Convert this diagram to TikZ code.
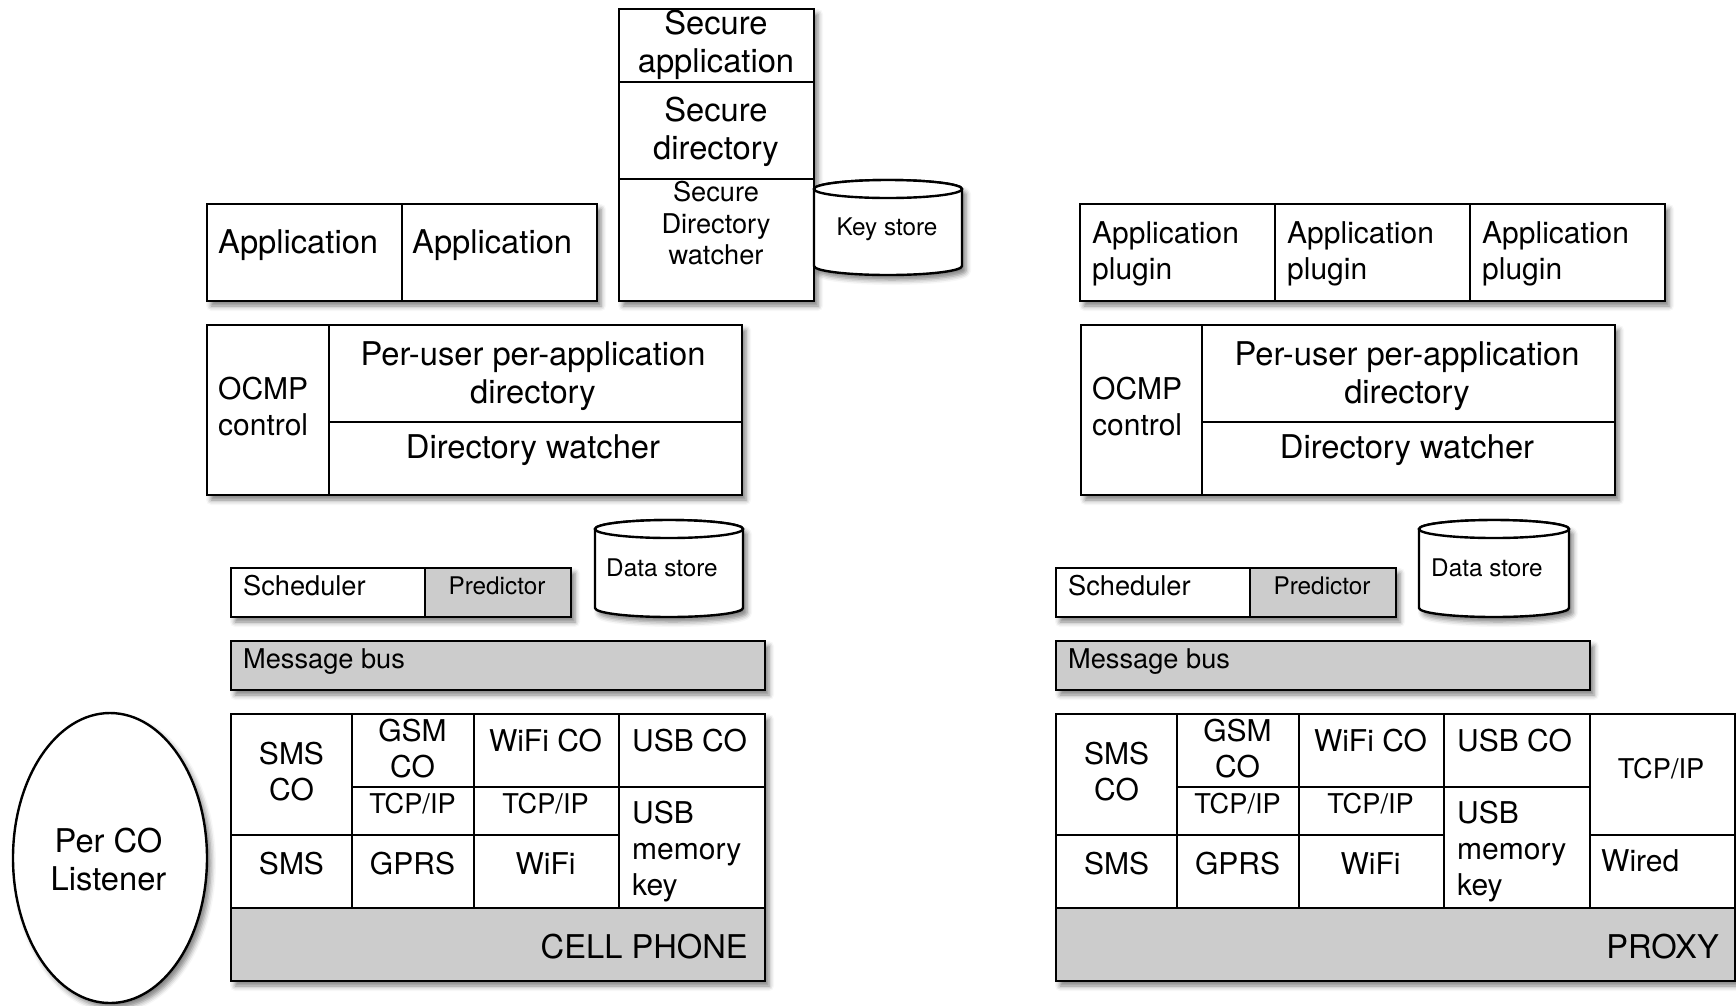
\documentclass[tikz,border=0pt]{standalone}
\usepackage{fontspec}
\setmainfont{TeX Gyre Heros}
\usetikzlibrary{shapes.geometric,shadows.blur}
\newcommand\fA{\fontsize{32.7}{38}\selectfont}
\newcommand\fB{\fontsize{30}{36}\selectfont}
\newcommand\fC{\fontsize{27.2}{31.5}\selectfont}
\newcommand\fD{\fontsize{24.3}{29}\selectfont}
% [opts]{name}{x1}{y1}{x2}{y2}
\newcommand\boxat[6][]{\node[cell,#1,minimum width={#5-#3},minimum height={#6-#4},anchor=north west] (#2) at (#3,#4) {};}
\begin{document}
\begin{tikzpicture}[x=1pt,y=-1pt,
  cell/.style={draw=black,line width=2.4pt,fill=white,inner sep=0pt,outer sep=0pt},
  grayfill/.style={fill=gray!40},
  shad/.style={blur shadow={shadow xshift=4pt,shadow yshift=-5pt,shadow blur radius=5pt,shadow opacity=50}},
  cyl/.style={draw=black,line width=2.4pt,fill=white},
  tx/.style={inner sep=0pt,text=black,align=center},
  tl/.style={inner sep=0pt,text=black,align=left,anchor=west},
]
\useasboundingbox (0,0) rectangle (1736,1005);

% ================= LEFT =================
% applications
\boxat[shad]{Lapps}{207}{204}{597}{301}
\boxat{Lapp1}{207}{204}{402}{301}
\boxat{Lapp2}{402}{204}{597}{301}
\node[tl,font=\fA] at (218,245.5) {Application};
\node[tl,font=\fA] at (412,245.5) {Application};

% secure column
\boxat[shad]{Lsec}{619}{9}{814}{301}
\boxat{Lsecapp}{619}{9}{814}{82}
\boxat{Lsecdir}{619}{82}{814}{179}
\boxat{Lsecw}{619}{179}{814}{301}
\node[tx,font=\fA] at (716,44.5) {Secure\\application};
\node[tx,font=\fA] at (716,132) {Secure\\directory};
\node[tx,font=\fC] at (716,223.5) {Secure\\Directory\\watcher};

% key store
\path[cyl,shad] (814,189) -- (814,266) arc[start angle=180,end angle=360,x radius=74pt,y radius=9pt] -- (962,189) arc[start angle=0,end angle=180,x radius=74pt,y radius=9pt] -- cycle;
\draw[cyl] (888,189) ellipse[x radius=74pt,y radius=9pt];
\node[tx,font=\fD] (Lkey) at (887,229) {Key store};

% OCMP
\boxat[shad]{Locmp}{207}{325}{742}{495}
\boxat{Lctl}{207}{325}{329}{495}
\boxat{Lpud}{329}{325}{742}{422}
\boxat{Ldw}{329}{422}{742}{495}
\node[tl,font=\fB] at (218,407) {OCMP\\control};
\node[tx,font=\fA] at (533,376) {Per-user per-application\\directory};
\node[tx,font=\fA] at (533,450.5) {Directory watcher};

% scheduler / predictor
\boxat[shad]{Lsch}{231}{568}{571}{617}
\boxat{Lsched}{231}{568}{425}{617}
\boxat[grayfill]{Lpred}{425}{568}{571}{617}
\node[tl,font=\fC] at (243,586) {Scheduler};
\node[tx,font=\fD] at (497,586) {Predictor};

% data store
\path[cyl,shad] (595,529) -- (595,608) arc[start angle=180,end angle=360,x radius=74pt,y radius=9pt] -- (743,529) arc[start angle=0,end angle=180,x radius=74pt,y radius=9pt] -- cycle;
\draw[cyl] (669,529) ellipse[x radius=74pt,y radius=9pt];
\node[tl,font=\fD] (Ldata) at (606,568) {Data store};

% message bus
\boxat[shad,grayfill]{Lbus}{231}{641}{765}{690}
\node[tl,font=\fC] at (243,661.5) {Message bus};

% CO table
\boxat[shad]{Ltab}{231}{714}{765}{981}
\boxat{Lsmsco}{231}{714}{352}{835}
\boxat{Lgsmco}{352}{714}{474}{787}
\boxat{Lwifico}{474}{714}{619}{787}
\boxat{Lusbco}{619}{714}{765}{787}
\boxat{Ltcp1}{352}{787}{474}{835}
\boxat{Ltcp2}{474}{787}{619}{835}
\boxat{Lusbkey}{619}{787}{765}{908}
\boxat{Lsms}{231}{835}{352}{908}
\boxat{Lgprs}{352}{835}{474}{908}
\boxat{Lwifi}{474}{835}{619}{908}
\boxat[grayfill]{Lphone}{231}{908}{765}{981}
\node[tx,font=\fB] at (291.5,772) {SMS\\CO};
\node[tx,font=\fB] at (412.5,748.5) {GSM\\CO};
\node[tx,font=\fB] at (545.5,741) {WiFi CO};
\node[tl,font=\fB] at (632,741) {USB CO};
\node[tx,font=\fC] at (412.5,804) {TCP/IP};
\node[tx,font=\fC] at (545.5,804) {TCP/IP};
\node[tl,font=\fB] at (632,851.5) {USB\\memory\\key};
\node[tx,font=\fB] at (291.5,863.5) {SMS};
\node[tx,font=\fB] at (412.5,863.5) {GPRS};
\node[tx,font=\fB] at (545.5,863.5) {WiFi};
\node[inner sep=0pt,anchor=east,font=\fA] at (748,946.5) {CELL PHONE};

% per CO listener
\node[cell,shad,ellipse,minimum width=194pt,minimum height=290pt] (Llist) at (110,858) {};
\node[tx,font=\fA] at (108.5,859.5) {Per CO\\Listener};

% ================= RIGHT =================
\boxat[shad]{Rapps}{1080}{204}{1665}{301}
\boxat{Rapp1}{1080}{204}{1275}{301}
\boxat{Rapp2}{1275}{204}{1470}{301}
\boxat{Rapp3}{1470}{204}{1665}{301}
\node[tl,font=\fB] at (1092,254) {Application\\plugin};
\node[tl,font=\fB] at (1287,254) {Application\\plugin};
\node[tl,font=\fB] at (1482,254) {Application\\plugin};

\boxat[shad]{Rocmp}{1081}{325}{1615}{495}
\boxat{Rctl}{1081}{325}{1202}{495}
\boxat{Rpud}{1202}{325}{1615}{422}
\boxat{Rdw}{1202}{422}{1615}{495}
\node[tl,font=\fB] at (1092,407) {OCMP\\control};
\node[tx,font=\fA] at (1407,376) {Per-user per-application\\directory};
\node[tx,font=\fA] at (1407,450.5) {Directory watcher};

\boxat[shad]{Rsch}{1056}{568}{1396}{617}
\boxat{Rsched}{1056}{568}{1250}{617}
\boxat[grayfill]{Rpred}{1250}{568}{1396}{617}
\node[tl,font=\fC] at (1068,586) {Scheduler};
\node[tx,font=\fD] at (1322,586) {Predictor};

\path[cyl,shad] (1419,529) -- (1419,608) arc[start angle=180,end angle=360,x radius=75pt,y radius=9pt] -- (1569,529) arc[start angle=0,end angle=180,x radius=75pt,y radius=9pt] -- cycle;
\draw[cyl] (1494,529) ellipse[x radius=75pt,y radius=9pt];
\node[tl,font=\fD] (Rdata) at (1431,568) {Data store};

\boxat[shad,grayfill]{Rbus}{1056}{641}{1590}{690}
\node[tl,font=\fC] at (1068,661.5) {Message bus};

\boxat[shad]{Rtab}{1056}{714}{1735}{981}
\boxat{Rsmsco}{1056}{714}{1177}{835}
\boxat{Rgsmco}{1177}{714}{1299}{787}
\boxat{Rwifico}{1299}{714}{1444}{787}
\boxat{Rusbco}{1444}{714}{1590}{787}
\boxat{Rtcp1}{1177}{787}{1299}{835}
\boxat{Rtcp2}{1299}{787}{1444}{835}
\boxat{Rusbkey}{1444}{787}{1590}{908}
\boxat{Rtcp3}{1590}{714}{1735}{835}
\boxat{Rsms}{1056}{835}{1177}{908}
\boxat{Rgprs}{1177}{835}{1299}{908}
\boxat{Rwifi}{1299}{835}{1444}{908}
\boxat{Rwired}{1590}{835}{1735}{908}
\boxat[grayfill]{Rproxy}{1056}{908}{1735}{981}
\node[tx,font=\fB] at (1116.5,772) {SMS\\CO};
\node[tx,font=\fB] at (1237.5,748.5) {GSM\\CO};
\node[tx,font=\fB] at (1370.5,741) {WiFi CO};
\node[tl,font=\fB] at (1457,741) {USB CO};
\node[tx,font=\fC] at (1237.5,804) {TCP/IP};
\node[tx,font=\fC] at (1370.5,804) {TCP/IP};
\node[tl,font=\fB] at (1457,851.5) {USB\\memory\\key};
\node[tx,font=\fC] at (1661,769) {TCP/IP};
\node[tx,font=\fB] at (1116.5,863.5) {SMS};
\node[tx,font=\fB] at (1237.5,863.5) {GPRS};
\node[tx,font=\fB] at (1370.5,863.5) {WiFi};
\node[tl,font=\fB] at (1601,861) {Wired};
\node[inner sep=0pt,anchor=east,font=\fA] at (1719,946.5) {PROXY};
\end{tikzpicture}
\end{document}
